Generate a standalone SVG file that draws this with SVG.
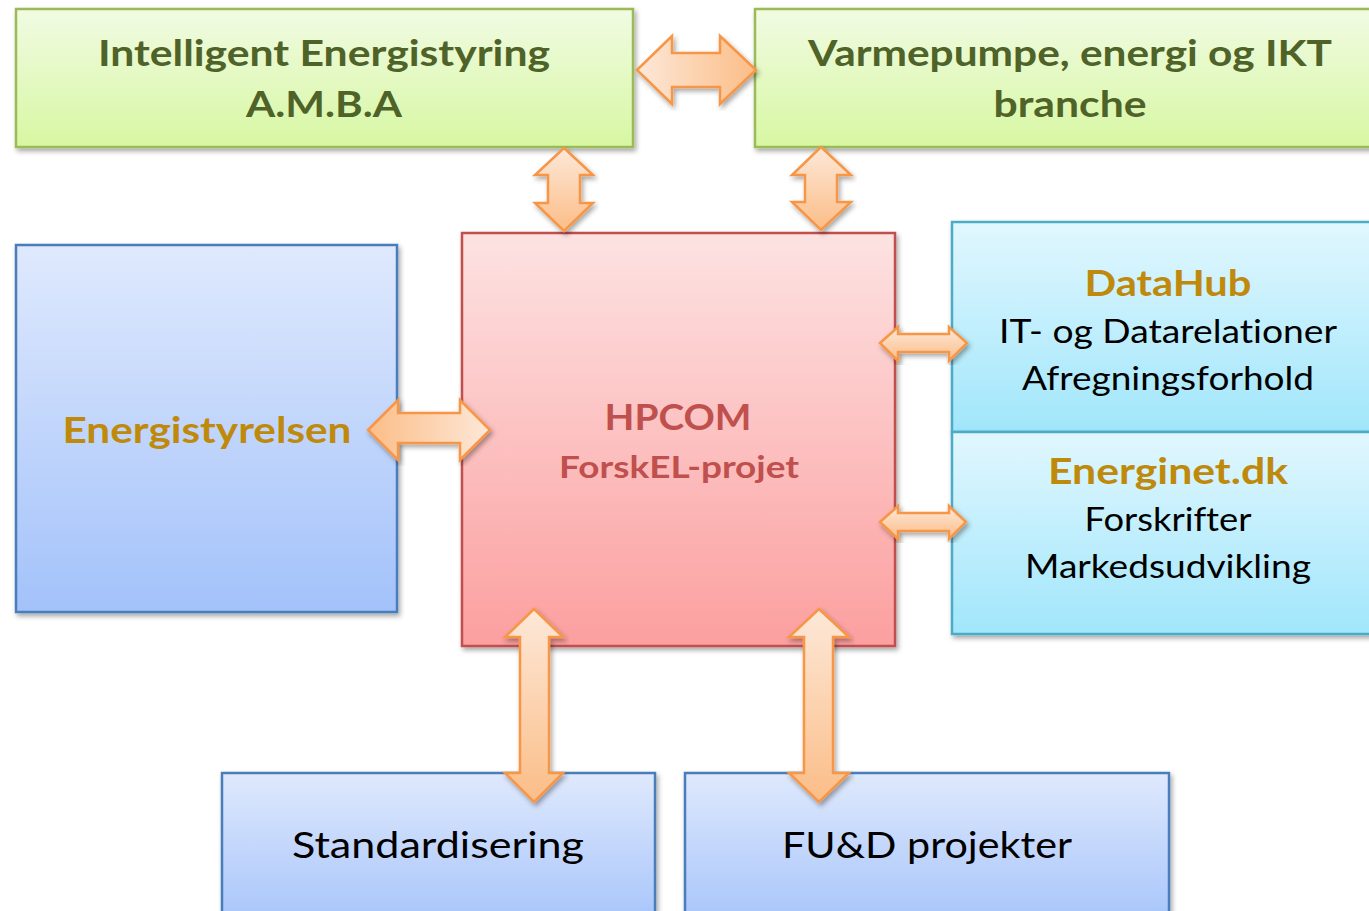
<svg xmlns="http://www.w3.org/2000/svg" width="1369" height="911" viewBox="0 0 1369 911">
<defs>
<linearGradient id="gGreen" x1="0" y1="0" x2="0" y2="1"><stop offset="0" stop-color="#f1fbe3"/><stop offset="1" stop-color="#d7f7a2"/></linearGradient>
<linearGradient id="gBlue" x1="0" y1="0" x2="0" y2="1"><stop offset="0" stop-color="#dfe9fd"/><stop offset="1" stop-color="#a3c2fa"/></linearGradient>
<linearGradient id="gRed" x1="0" y1="0" x2="0" y2="1"><stop offset="0" stop-color="#fde2e2"/><stop offset="1" stop-color="#fc9f9f"/></linearGradient>
<linearGradient id="gCyan" x1="0" y1="0" x2="0" y2="1"><stop offset="0" stop-color="#e1f7fe"/><stop offset="1" stop-color="#a1e6fb"/></linearGradient>
<linearGradient id="gOrV" x1="0" y1="0" x2="0" y2="1"><stop offset="0" stop-color="#fde8d8"/><stop offset="1" stop-color="#fbbd87"/></linearGradient>
<linearGradient id="gOrH" x1="0" y1="0" x2="1" y2="0"><stop offset="0" stop-color="#fde8d8"/><stop offset="1" stop-color="#fbbd87"/></linearGradient>
<linearGradient id="gOrHr" x1="1" y1="0" x2="0" y2="0"><stop offset="0" stop-color="#fde8d8"/><stop offset="1" stop-color="#fbbd87"/></linearGradient>
<filter id="sh" x="-10%" y="-10%" width="120%" height="120%"><feDropShadow dx="2" dy="3" stdDeviation="2.5" flood-color="#000" flood-opacity="0.35"/></filter>
</defs>
<style>
.t{font-family:"Lato","Open Sans","DejaVu Sans",sans-serif;text-anchor:middle;font-variant-ligatures:none}
.b{font-weight:bold}
.green{fill:#4f6228}
.gold{fill:#bf8a0c}
.red{fill:#c0504d}
.blk{fill:#000}
.arrow{stroke:#f79646;stroke-width:2.5;stroke-linejoin:miter;filter:url(#sh)}
</style>

<g id="node-intelligent">
<rect x="16" y="9" width="617" height="138" fill="url(#gGreen)" stroke="#9bbb59" stroke-width="2.5" filter="url(#sh)"/>
<text class="t b green" x="324" y="66" font-size="37" textLength="452" lengthAdjust="spacingAndGlyphs">Intelligent Energistyring</text>
<text class="t b green" x="324" y="117" font-size="37" textLength="156" lengthAdjust="spacingAndGlyphs">A.M.B.A</text>
</g>

<g id="node-varmepumpe">
<rect x="755" y="9" width="630" height="138" fill="url(#gGreen)" stroke="#9bbb59" stroke-width="2.5" filter="url(#sh)"/>
<text class="t b green" x="1070" y="66" font-size="37" textLength="524" lengthAdjust="spacingAndGlyphs">Varmepumpe, energi og IKT</text>
<text class="t b green" x="1070" y="117" font-size="37" textLength="153" lengthAdjust="spacingAndGlyphs">branche</text>
</g>

<g id="node-energistyrelsen">
<rect x="16" y="245" width="381" height="367" fill="url(#gBlue)" stroke="#4a7ebb" stroke-width="2.5" filter="url(#sh)"/>
<text class="t b gold" x="207" y="443" font-size="37" textLength="289" lengthAdjust="spacingAndGlyphs">Energistyrelsen</text>
</g>

<g id="node-hpcom">
<rect x="462" y="233" width="433" height="413" fill="url(#gRed)" stroke="#c0504d" stroke-width="2.5" filter="url(#sh)"/>
<text class="t b red" x="678" y="430" font-size="37" textLength="147" lengthAdjust="spacingAndGlyphs">HPCOM</text>
<text class="t b red" x="679" y="478" font-size="30" textLength="240" lengthAdjust="spacingAndGlyphs">ForskEL-projet</text>
</g>

<g id="node-datahub">
<rect x="952" y="222" width="430" height="210" fill="url(#gCyan)" stroke="#4bacc6" stroke-width="2.5" filter="url(#sh)"/>
<text class="t b gold" x="1168" y="296" font-size="37" textLength="167" lengthAdjust="spacingAndGlyphs">DataHub</text>
<text class="t blk" x="1168" y="343" font-size="32" textLength="338" lengthAdjust="spacingAndGlyphs">IT- og Datarelationer</text>
<text class="t blk" x="1168" y="390" font-size="32" textLength="292" lengthAdjust="spacingAndGlyphs">Afregningsforhold</text>
</g>

<g id="node-energinet">
<rect x="952" y="432" width="430" height="202" fill="url(#gCyan)" stroke="#4bacc6" stroke-width="2.5" filter="url(#sh)"/>
<text class="t b gold" x="1168" y="484" font-size="37" textLength="240" lengthAdjust="spacingAndGlyphs">Energinet.dk</text>
<text class="t blk" x="1168" y="531" font-size="32" textLength="167" lengthAdjust="spacingAndGlyphs">Forskrifter</text>
<text class="t blk" x="1168" y="578" font-size="32" textLength="286" lengthAdjust="spacingAndGlyphs">Markedsudvikling</text>
</g>

<g id="node-standardisering">
<rect x="222" y="773" width="433" height="160" fill="url(#gBlue)" stroke="#4a7ebb" stroke-width="2.5" filter="url(#sh)"/>
<text class="t blk" x="438" y="858" font-size="37" textLength="292" lengthAdjust="spacingAndGlyphs">Standardisering</text>
</g>

<g id="node-fud">
<rect x="685" y="773" width="484" height="160" fill="url(#gBlue)" stroke="#4a7ebb" stroke-width="2.5" filter="url(#sh)"/>
<text class="t blk" x="927" y="858" font-size="37" textLength="290" lengthAdjust="spacingAndGlyphs">FU&amp;D projekter</text>
</g>

<g id="connectors">
<path class="arrow" fill="url(#gOrH)" d="M637,70 L672,36 L672,53 L720,53 L720,36 L756,70 L720,104 L720,87 L672,87 L672,104 Z"/>
<path class="arrow" fill="url(#gOrV)" d="M564,148 L593,175 L580,175 L580,203 L593,203 L564,231 L535,203 L548,203 L548,175 L535,175 Z"/>
<path class="arrow" fill="url(#gOrV)" d="M821,147 L851,175 L837,175 L837,202 L851,202 L821,230 L792,202 L805,202 L805,175 L792,175 Z"/>
<path class="arrow" fill="url(#gOrHr)" d="M368,430 L398,400 L398,413 L460,413 L460,400 L490,430 L460,460 L460,443 L398,443 L398,460 Z"/>
<path class="arrow" fill="url(#gOrV)" d="M880,343 L898,327 L898,334 L949,334 L949,327 L967,343 L949,361 L949,352 L898,352 L898,361 Z"/>
<path class="arrow" fill="url(#gOrV)" d="M880,522 L898,506 L898,513 L949,513 L949,506 L966,522 L949,539 L949,531 L898,531 L898,539 Z"/>
<path class="arrow" fill="url(#gOrV)" d="M534,609 L563,637 L549,637 L549,773 L563,773 L534,802 L505,773 L520,773 L520,637 L505,637 Z"/>
<path class="arrow" fill="url(#gOrV)" d="M819,609 L849,637 L833,637 L833,773 L849,773 L819,802 L789,773 L804,773 L804,637 L789,637 Z"/>
</g>
</svg>
